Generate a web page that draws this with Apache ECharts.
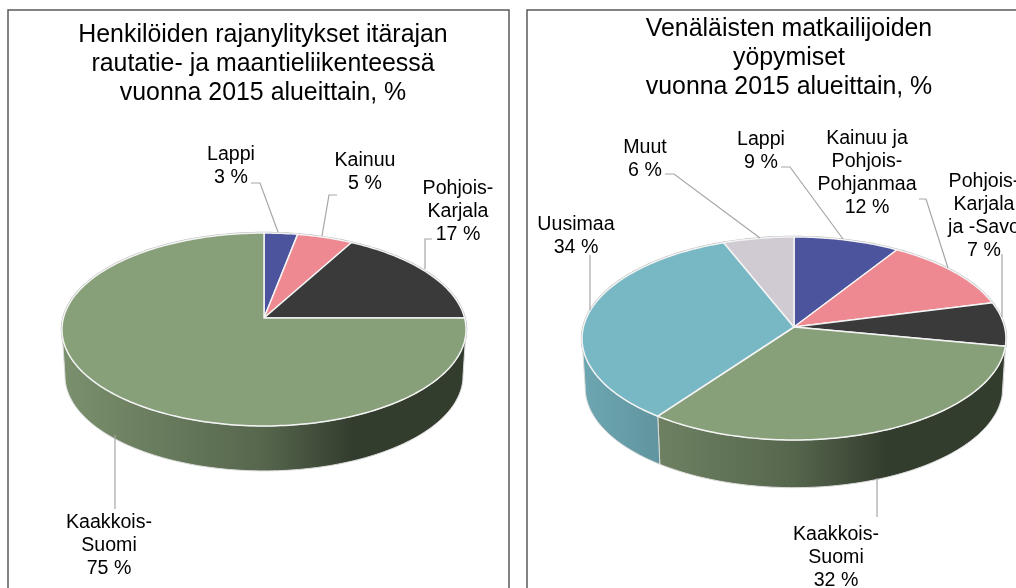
<!DOCTYPE html>
<html>
<head>
<meta charset="utf-8">
<style>
  html, body { margin: 0; padding: 0; background: #fff; overflow: hidden; }
  #chart { width: 1016px; height: 588px; }
</style>
<script src="https://cdn.jsdelivr.net/npm/echarts@6/dist/echarts.min.js"></script>
</head>
<body>
<div id="chart"></div>
<script>
// data
const borderTitle = 'Henkilöiden rajanylitykset itärajan\nrautatie- ja maantieliikenteessä\nvuonna 2015 alueittain, %';
const borderCategories = ['Lappi', 'Kainuu', 'Pohjois-\nKarjala', 'Kaakkois-\nSuomi'];
const borderValues = [3, 5, 17, 75];

const touristTitle = 'Venäläisten matkailijoiden\nyöpymiset\nvuonna 2015 alueittain, %';
const touristCategories = ['Lappi', 'Kainuu ja\nPohjois-\nPohjanmaa', 'Pohjois-\nKarjala\nja -Savo', 'Kaakkois-\nSuomi', 'Uusimaa', 'Muut'];
const touristValues = [9, 12, 7, 32, 34, 6];

// colours
const BLUE = '#4b549c', PINK = '#ee8891', DARK = '#3a3a3a', GREEN = '#87a079', TEAL = '#78b8c5', LILAC = '#d0cbd3';
const FONT = '"Liberation Sans", Arial, sans-serif';

// layout of each pie: apex, radii, perspective k, wall depth, label spots and leader lines
const borderPie = {
  cx: 264, cy: 318, a: 200.6, b: 95.1, k: 0.119, depth: 46.6, shrink: 0.985,
  colors: [BLUE, PINK, DARK, GREEN],
  labels: [[231, 143.5], [365, 149.5], [458, 177.5], [109, 511.5]],
  leaders: [
    [[251, 183], [260, 183], [278, 232]],
    [[337, 195], [329, 195], [322, 236]],
    [[432, 239], [425, 239], [425, 269]],
    [[115, 435], [115, 509]]
  ]
};
const touristPie = {
  cx: 794, cy: 327, a: 210.6, b: 100.2, k: 0.113, depth: 49.4, shrink: 0.985,
  colors: [BLUE, PINK, DARK, GREEN, TEAL, LILAC],
  labels: [[761, 128.5], [867, 127], [984, 170], [836, 523.5], [576, 213], [645, 136]],
  leaders: [
    [[781, 167], [790, 167], [843, 239]],
    [[919, 199], [926, 199], [948, 268]],
    [[1002, 254], [1002, 317]],
    [[877, 478], [877, 517]],
    [[590, 255], [590, 310]],
    [[665, 174], [674, 174], [760, 238]]
  ]
};

// perspective projection of a pie angle (radians, clockwise from 12 o'clock)
function project(p, angle, lower) {
  const u = Math.sin(angle), v = -Math.cos(angle), w = 1 - p.k * v;
  const s = lower ? p.shrink : 1;
  return [p.cx + s * p.a * u / w, p.cy + (lower ? p.depth : 0) + s * p.b * v / w];
}

function arc(p, from, to, lower) {
  const pts = [];
  const n = Math.max(2, Math.ceil(Math.abs(to - from) / 0.02));
  for (let i = 0; i <= n; i++) pts.push(project(p, from + (to - from) * i / n, lower));
  return pts;
}

function shade(hex, f) {
  const n = parseInt(hex.slice(1), 16);
  return 'rgb(' + [n >> 16, (n >> 8) & 255, n & 255].map(c => Math.round(c * f)).join(',') + ')';
}

function wallGradient(p, base) {
  return new echarts.graphic.LinearGradient(p.cx - p.a, 0, p.cx + p.a, 0, [
    { offset: 0, color: shade(base, 0.9) },
    { offset: 0.5, color: shade(base, 0.64) },
    { offset: 0.72, color: shade(base, 0.38) },
    { offset: 1, color: shade(base, 0.38) }
  ], true);
}

function pieRenderer(p, values) {
  const total = values.reduce((s, v) => s + v, 0);
  return function (params, api) {
    const i = params.dataIndex;
    let before = 0;
    for (let j = 0; j < i; j++) before += values[j];
    const start = before / total * Math.PI * 2;
    const end = (before + api.value(0)) / total * Math.PI * 2;
    const children = [];

    // grey rim behind everything
    if (i === 0) {
      children.push({
        type: 'polygon', z2: 0, silent: true,
        shape: { points: arc(p, 0, Math.PI * 2, false) },
        style: { fill: 'none', stroke: '#b8b8b8', lineWidth: 2.4 }
      });
    }

    // side wall, only the part that faces the viewer
    const tangent = Math.asin(p.k);
    const wallFrom = Math.max(start, Math.PI / 2 + tangent);
    const wallTo = Math.min(end, Math.PI * 1.5 - tangent);
    if (wallTo > wallFrom) {
      const top = arc(p, wallFrom, wallTo, false);
      const low = arc(p, wallFrom, wallTo, true).reverse();
      children.push({
        type: 'polygon', z2: 1, silent: true,
        shape: { points: top.concat(low) },
        style: { fill: wallGradient(p, p.colors[i]), stroke: '#dcdcdc', lineWidth: 1 }
      });
    }

    // top face
    const face = [[p.cx, p.cy]].concat(arc(p, start, end, false));
    children.push({
      type: 'polygon', z2: 2,
      shape: { points: face },
      style: { fill: p.colors[i], stroke: '#f4f4f4', lineWidth: 1.5, lineJoin: 'round' }
    });

    // leader line and label
    children.push({
      type: 'polyline', z2: 3, silent: true,
      shape: { points: p.leaders[i] },
      style: { fill: 'none', stroke: '#a6a6a6', lineWidth: 1.2 }
    });
    children.push({
      type: 'text', z2: 4, silent: true,
      style: {
        x: p.labels[i][0], y: p.labels[i][1],
        text: api.value(1) + '\n' + api.value(0) + ' %',
        font: '19.6px ' + FONT, lineHeight: 23,
        fill: '#000', align: 'center', verticalAlign: 'top'
      }
    });
    return { type: 'group', children: children };
  };
}

function pieSeries(p, categories, values) {
  return {
    type: 'custom',
    coordinateSystem: 'none',
    silent: true,
    animation: false,
    encode: { value: 0 },
    data: values.map((v, i) => [v, categories[i]]),
    dimensions: [{ name: 'value', type: 'number' }, { name: 'name', type: 'ordinal' }],
    renderItem: pieRenderer(p, values)
  };
}

const chart = echarts.init(document.getElementById('chart'), null, { renderer: 'canvas' });
chart.setOption({
  animation: false,
  backgroundColor: '#fff',
  title: [
    {
      text: borderTitle, left: 258, top: 15.5, textAlign: 'center',
      textStyle: { fontFamily: FONT, fontSize: 24.9, fontWeight: 'normal', color: '#000', lineHeight: 29 }
    },
    {
      text: touristTitle, left: 784, top: 9.5, textAlign: 'center',
      textStyle: { fontFamily: FONT, fontSize: 24.9, fontWeight: 'normal', color: '#000', lineHeight: 29 }
    }
  ],
  graphic: [
    { type: 'rect', silent: true, shape: { x: 8, y: 10, width: 501, height: 640 }, style: { fill: 'none', stroke: '#595959', lineWidth: 1.5 } },
    { type: 'rect', silent: true, shape: { x: 527, y: 10, width: 640, height: 640 }, style: { fill: 'none', stroke: '#595959', lineWidth: 1.5 } }
  ],
  series: [
    pieSeries(borderPie, borderCategories, borderValues),
    pieSeries(touristPie, touristCategories, touristValues)
  ]
});
</script>
</body>
</html>
